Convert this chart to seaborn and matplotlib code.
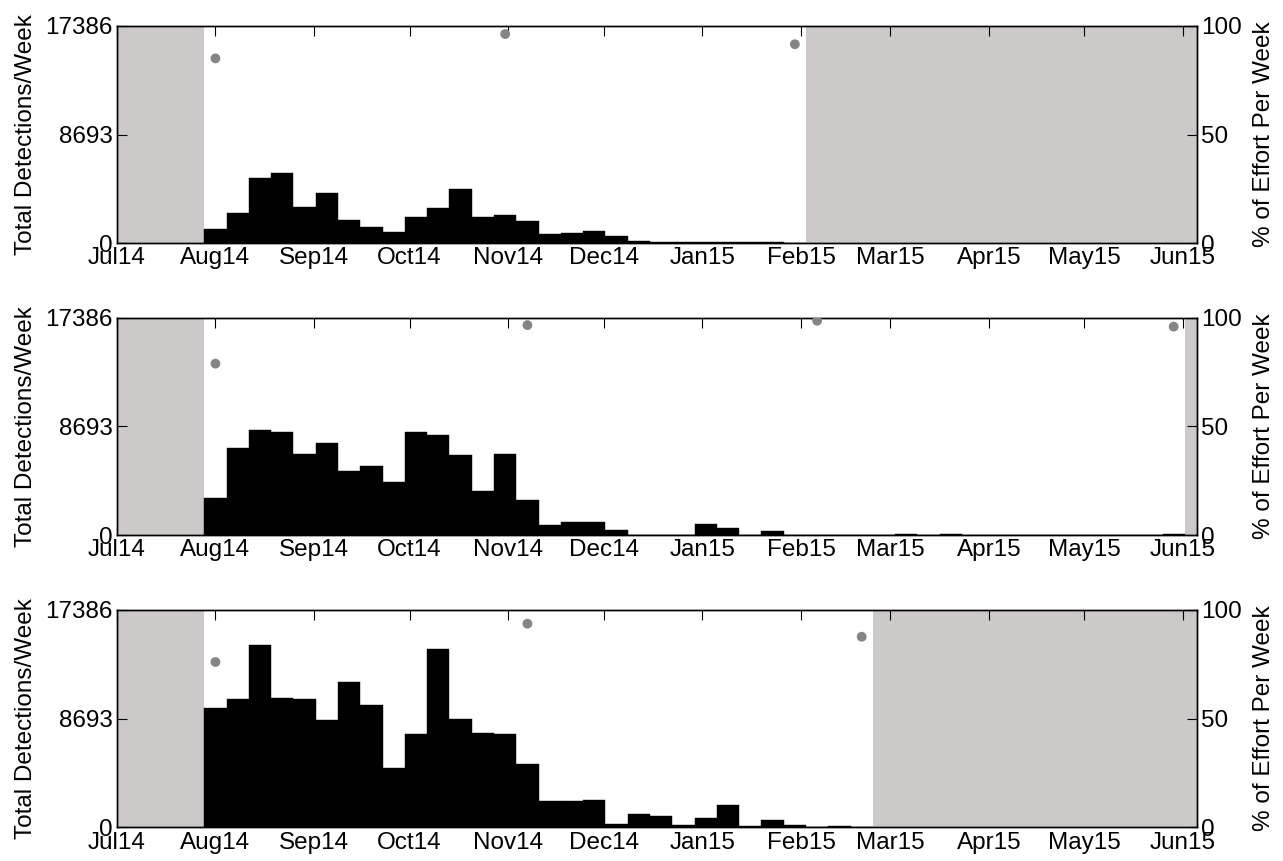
import numpy as np
import pandas as pd
import matplotlib
matplotlib.use('Agg')
import matplotlib.pyplot as plt
import matplotlib.dates as mdates
import seaborn as sns

# time axis
week_start = pd.Timestamp('2014-07-28 13:00')
x_start = pd.Timestamp('2014-07-01')
x_end = pd.Timestamp('2015-06-05 07:00')
month_ticks = pd.date_range('2014-07-01', '2015-06-01', freq='MS')

# weekly detections per site
det_site1 = [1121, 2430, 5233, 5607, 2884, 4005, 1869, 1308, 935, 2136,
             2804, 4352, 2136, 2270, 1762, 748, 854, 1015, 617, 214,
             100, 95, 90, 95, 85, 80, 20]
det_site2 = [2989, 6995, 8385, 8225, 6462, 7395, 5153, 5500, 4245, 8225,
             7984, 6382, 3578, 6462, 2830, 854, 1041, 1041, 400, 60,
             40, 50, 880, 600, 60, 380, 40, 40, 30, 10,
             10, 90, 10, 90, 5, 5, 5, 5, 5, 5,
             5, 5, 5, 90]
det_site3 = [9553, 10222, 14594, 10302, 10222, 8559, 11618, 9768, 4723, 7432,
             14250, 8640, 7512, 7432, 5099, 2066, 2066, 2147, 268, 1046,
             912, 188, 751, 1797, 80, 563, 188, 20, 107, 20]

# weeks with partial effort (% of week recorded)
eff_week1 = [0, 13, 26]
eff_pct1 = [85.0, 96.2, 91.5]
eff_week2 = [0, 14, 27, 43]
eff_pct2 = [78.9, 96.6, 98.6, 95.9]
eff_week3 = [0, 14, 29]
eff_pct3 = [76.0, 93.6, 87.6]

y_max = 17386
y_ticks = [0, 8693, 17386]

sites = [(det_site1, eff_week1, eff_pct1),
         (det_site2, eff_week2, eff_pct2),
         (det_site3, eff_week3, eff_pct3)]

sns.set_style('white')
plt.rcParams['font.family'] = ['Liberation Sans', 'DejaVu Sans']
plt.rcParams['text.color'] = 'black'
plt.rcParams['axes.labelcolor'] = 'black'
plt.rcParams['xtick.color'] = 'black'
plt.rcParams['ytick.color'] = 'black'
fs = 17.5
shade = '#ccc9c8'

fig = plt.figure(figsize=(12.83, 8.61), dpi=100)
bottoms = [0.7174, 0.3783, 0.0391]

x0 = mdates.date2num(x_start)
x1 = mdates.date2num(x_end)
w0 = mdates.date2num(week_start)

for (counts, eff_week, eff_pct), yb in zip(sites, bottoms):
    ax = fig.add_axes([0.0909, yb, 0.8419, 0.2527])
    n = len(counts)
    edges = w0 + 7.0 * np.arange(n + 1)
    centers = edges[:-1] + 3.5
    df = pd.DataFrame({'week': centers, 'detections': counts})

    # no-effort periods
    ax.axvspan(x0, edges[0], color=shade, lw=0, zorder=0)
    ax.axvspan(edges[-1], x1, color=shade, lw=0, zorder=0)

    sns.histplot(data=df, x='week', weights='detections', binwidth=7,
                 binrange=(float(edges[0]), float(edges[-1])), color='black',
                 alpha=1, edgecolor='black', linewidth=0.3, ax=ax, zorder=2)

    ax.set_xlim(x0, x1)
    ax.set_ylim(0, y_max)
    ax.set_yticks(y_ticks)
    ax.set_yticklabels([str(v) for v in y_ticks], fontsize=fs)
    ax.set_xticks(mdates.date2num(month_ticks))
    ax.xaxis.set_major_formatter(mdates.DateFormatter('%b%y'))
    ax.tick_params(axis='x', labelsize=fs, direction='in', length=7,
                   top=True, pad=3)
    ax.tick_params(axis='y', direction='in', length=7, pad=3)
    ax.set_ylabel('Total Detections/Week', fontsize=fs, labelpad=6)
    ax.set_xlabel('')
    for sp in ax.spines.values():
        sp.set_linewidth(1.0)
        sp.set_color('black')
        sp.set_zorder(5)

    ax2 = ax.twinx()
    eff = pd.DataFrame({'week': centers[eff_week], 'effort': eff_pct})
    sns.scatterplot(data=eff, x='week', y='effort', color='#858585', s=50,
                    edgecolor='none', ax=ax2, zorder=3)
    ax2.set_ylim(0, 100)
    ax2.set_yticks([0, 50, 100])
    ax2.set_yticklabels(['0', '50', '100'], fontsize=fs)
    ax2.tick_params(axis='y', direction='in', length=7, pad=3)
    ax2.set_ylabel('% of Effort Per Week', fontsize=fs, labelpad=8)
    ax2.set_xlim(x0, x1)
    for sp in ax2.spines.values():
        sp.set_linewidth(1.0)
        sp.set_color('black')

fig.savefig('out.png', dpi=100)
